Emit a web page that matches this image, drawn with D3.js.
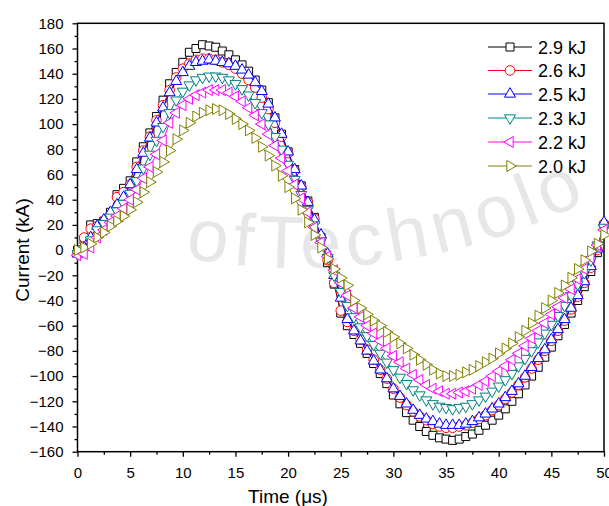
<!DOCTYPE html>
<html><head><meta charset="utf-8">
<script src="https://cdn.jsdelivr.net/npm/d3@7"></script>
<style>body{margin:0;background:#fff}svg{display:block}</style>
</head><body>
<svg id="chart" width="609" height="506"></svg>
<script>
// ---------- data ----------
const times = [0,0.625,1.25,1.875,2.5,3.125,3.75,4.375,5,5.625,6.25,6.875,7.5,8.125,8.75,9.375,
  10,10.625,11.25,11.875,12.5,13.125,13.75,14.375,15,15.625,16.25,16.875,17.5,18.125,18.75,19.375,
  20,20.625,21.25,21.875,22.5,23.125,23.75,24.375,25,25.625,26.25,26.875,27.5,28.125,28.75,29.375,
  30,30.625,31.25,31.875,32.5,33.125,33.75,34.375,35,35.625,36.25,36.875,37.5,38.125,38.75,39.375,
  40,40.625,41.25,41.875,42.5,43.125,43.75,44.375,45,45.625,46.25,46.875,47.5,48.125,48.75,49.375,50];

const current29 = [0,8,20,21,23,30,44,49,55,70,82,93,106,119,132,141,
  149,157,160,163,162,161,158,155,151,147,142,135,127,117,105,92,
  78,64,51,39,26,10,-10,-27,-50,-60,-67,-74,-82,-90,-98,-106,
  -115,-122,-129,-135,-140,-144,-147,-149,-150,-151,-150,-148,-146,-143,-139,-135,
  -131,-126,-120,-114,-107,-100,-93,-85,-77,-68,-59,-50,-40,-29,-17,-2,20];

const current26 = [-2,10,17,19,22,28,42,46,52,66,79,90,103,115,127,137,
  144,148,151,152,152,151,149,147,144,140,135,129,121,112,101,90,
  77,63,50,38,25,10,-8,-26,-48,-57,-64,-71,-79,-87,-95,-102,
  -110,-117,-123,-128,-132,-135,-138,-140,-141,-141,-140,-139,-137,-134,-131,-127,
  -123,-118,-113,-107,-101,-94,-87,-80,-72,-64,-56,-47,-37,-26,-14,0,21];

const current25 = [-3,2,10,19,24,30,36,42,52,64,77,89,101,113,125,134,
  141,146,149,150,151,150,149,148,146,143,139,133,126,116,105,92,
  78,64,51,38,24,12,-3,-20,-38,-55,-64,-72,-80,-88,-95,-102,
  -110,-116,-122,-127,-131,-134,-136,-138,-139,-139,-139,-138,-136,-133,-130,-126,
  -122,-117,-112,-106,-100,-93,-86,-79,-71,-63,-55,-46,-36,-25,-13,1,22];

const current23 = [-3,1,8,16,21,26,31,37,45,55,65,76,87,98,109,119,
  126,131,135,137,138,138,137,135,132,128,123,117,109,100,90,80,
  68,56,44,32,20,7,-6,-20,-33,-44,-53,-61,-68,-75,-82,-89,
  -95,-101,-106,-111,-115,-119,-122,-124,-125,-126,-125,-124,-122,-119,-116,-112,
  -108,-103,-98,-92,-86,-80,-73,-66,-59,-52,-44,-36,-27,-18,-8,4,18];

const current22 = [-4,-3,2,10,16,22,27,33,40,48,57,66,76,87,101,109,
  115,120,123,125,127,127,127,125,122,118,113,107,100,92,83,73,
  63,52,41,30,18,6,-5,-16,-26,-36,-46,-53,-60,-66,-72,-78,
  -84,-89,-94,-99,-103,-107,-110,-112,-114,-114,-113,-112,-110,-107,-104,-100,
  -96,-92,-87,-82,-76,-70,-64,-58,-51,-45,-38,-31,-23,-15,-6,4,16];

const current20 = [0,2,5,10,14,19,23,27,32,38,46,54,62,70,79,88,
  95,101,106,109,111,112,111,108,104,100,95,89,82,75,67,59,
  50,41,32,22,12,2,-7,-15,-22,-28,-40,-46,-51,-56,-60,-65,
  -69,-74,-78,-83,-87,-91,-95,-98,-100,-100,-99,-97,-95,-92,-89,-86,
  -82,-78,-74,-69,-64,-58,-52,-46,-40,-34,-28,-22,-15,-8,-1,5,12];

const seriesLabels = ["2.9 kJ","2.6 kJ","2.5 kJ","2.3 kJ","2.2 kJ","2.0 kJ"];
const seriesValues = [current29,current26,current25,current23,current22,current20];
const xTickValues = [0,5,10,15,20,25,30,35,40,45,50];
const xMinorTicks = [2.5,7.5,12.5,17.5,22.5,27.5,32.5,37.5,42.5,47.5];
const yTickValues = [-160,-140,-120,-100,-80,-60,-40,-20,0,20,40,60,80,100,120,140,160,180];
const yMinorTicks = [-150,-130,-110,-90,-70,-50,-30,-10,10,30,50,70,90,110,130,150,170];
const watermarkText = "ofTechnolo";

// ---------- styles ----------
const colors = ["#000000","#ff0000","#0000ff","#008080","#ff00ff","#808000"];
const shapes = ["square","circle","up","down","left","right"];
const FONT = "'Liberation Sans', Arial, Helvetica, sans-serif";

const svg = d3.select("#chart");
const L = 77.5, R = 604, T = 23.3, B = 451.7;
const x = d3.scaleLinear().domain([0,50]).range([L,R]);
const y = d3.scaleLinear().domain([-160,180]).range([B,T]);

// ---------- faint watermark ----------
svg.append("defs").append("path").attr("id","wmArc")
  .attr("d","M -232.4 -9.2 A 650 650 0 0 0 832.4 -9.2");
svg.append("text").attr("fill","#e7e7e7").style("font-family",FONT)
  .style("font-size","74px").style("letter-spacing","6px")
  .append("textPath").attr("href","#wmArc").attr("startOffset",508).text(watermarkText);

// ---------- axes ----------
const axisStyle = g => {
  g.select(".domain").remove();
  g.selectAll("line").attr("stroke","#000").attr("stroke-width",1.3);
  g.selectAll("text").style("font-family",FONT).style("font-size","15px").attr("fill","#000");
};
svg.append("g").attr("transform",`translate(${L},0)`)
  .call(d3.axisLeft(y).tickValues(yTickValues).tickSize(5).tickPadding(9).tickFormat(d3.format("d")))
  .call(axisStyle);
svg.append("g").attr("transform",`translate(${L},0)`)
  .call(d3.axisLeft(y).tickValues(yMinorTicks).tickSize(3).tickFormat(""))
  .call(axisStyle);
svg.append("g").attr("transform",`translate(0,${B})`)
  .call(d3.axisBottom(x).tickValues(xTickValues).tickSize(5).tickPadding(11).tickFormat(d3.format("d")))
  .call(axisStyle);
svg.append("g").attr("transform",`translate(0,${B})`)
  .call(d3.axisBottom(x).tickValues(xMinorTicks).tickSize(3).tickFormat(""))
  .call(axisStyle);

// frame
svg.append("rect").attr("x",L).attr("y",T).attr("width",R-L).attr("height",B-T)
  .attr("fill","none").attr("stroke","#000").attr("stroke-width",1.5);

// titles
svg.append("text").attr("transform","translate(29,250) rotate(-90)")
  .attr("text-anchor","middle").style("font-family",FONT).style("font-size","19px").text("Current (kA)");
svg.append("text").attr("x",288).attr("y",503)
  .attr("text-anchor","middle").style("font-family",FONT).style("font-size","19px").text("Time (μs)");

// ---------- markers ----------
function markerPath(shape){
  if(shape==="square") return d3.symbol(d3.symbolSquare,64)();
  if(shape==="circle") return d3.symbol(d3.symbolCircle,72)();
  return d3.symbol(d3.symbolTriangle,52)();
}
function markerRot(shape){
  return {up:0,down:180,left:-90,right:90}[shape] || 0;
}

const line = d3.line().x(d=>x(d[0])).y(d=>y(d[1]));
seriesValues.forEach((vals,si)=>{
  const pts = times.map((t,i)=>[t,vals[i]]);
  const g = svg.append("g");
  g.append("path").attr("d",line(pts)).attr("fill","none")
    .attr("stroke",colors[si]).attr("stroke-width",1);
  g.selectAll("path.m").data(pts).enter().append("path").attr("class","m")
    .attr("d",markerPath(shapes[si]))
    .attr("transform",d=>`translate(${x(d[0])},${y(d[1])}) rotate(${markerRot(shapes[si])})`)
    .attr("fill","#fff").attr("stroke",colors[si]).attr("stroke-width",1);
});

// ---------- legend ----------
const lg = svg.append("g");
const rowY = [47,70.5,94,118,142,166];
seriesLabels.forEach((lab,si)=>{
  const yy = rowY[si];
  lg.append("line").attr("x1",488).attr("x2",532).attr("y1",yy).attr("y2",yy)
    .attr("stroke",colors[si]).attr("stroke-width",1);
  lg.append("path").attr("d",markerPath(shapes[si]))
    .attr("transform",`translate(510,${yy}) rotate(${markerRot(shapes[si])})`)
    .attr("fill","#fff").attr("stroke",colors[si]).attr("stroke-width",1);
  lg.append("text").attr("x",538).attr("y",yy+6.5).style("font-family",FONT)
    .style("font-size","18px").text(lab);
});
</script>
</body></html>
